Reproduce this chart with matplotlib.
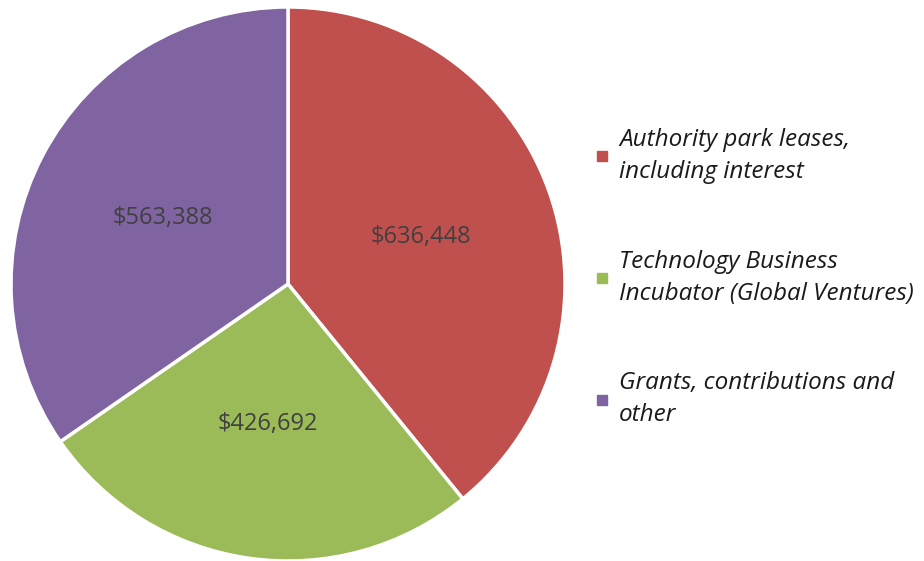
import matplotlib
matplotlib.use("Agg")
import matplotlib.pyplot as plt
from matplotlib.lines import Line2D

labels = ["Authority park leases,\nincluding interest",
          "Technology Business\nIncubator (Global Ventures)",
          "Grants, contributions and\nother"]
values = [636448, 426692, 563388]
colors = ["#C0504D", "#9BBB59", "#8064A2"]

total = sum(values)

fig = plt.figure(figsize=(9.24, 5.61), dpi=100)
# pie axes placed so the circle sits at the left of the figure
ax = fig.add_axes([11/924, 0/561, 554/924, 554/561])

wedges, texts, autotexts = ax.pie(
    values, colors=colors, startangle=90, counterclock=False,
    autopct=lambda p: "${:,.0f}".format(p*total/100), pctdistance=0.51,
    wedgeprops=dict(edgecolor="white", linewidth=2.5),
    textprops=dict(color="#404040", fontsize=17, family="Open Sans"))
ax.set_xlim(-1, 1)
ax.set_ylim(-1, 1)
ax.set_aspect("equal")

handles = [Line2D([0], [0], marker="s", linestyle="none", markersize=7,
                  markerfacecolor=c, markeredgecolor=c) for c in colors]
leg = fig.legend(handles, labels, loc="center left", bbox_to_anchor=(596/924, 0.505),
                 frameon=False, handlelength=0.5, handletextpad=0.45, labelspacing=2.7,
                 borderaxespad=0, borderpad=0,
                 prop=dict(family="Open Sans", style="italic", size=17.5))
for t in leg.get_texts():
    t.set_color("#1a1a1a")
    t.set_linespacing(1.45)

fig.savefig("out.png", dpi=100)
